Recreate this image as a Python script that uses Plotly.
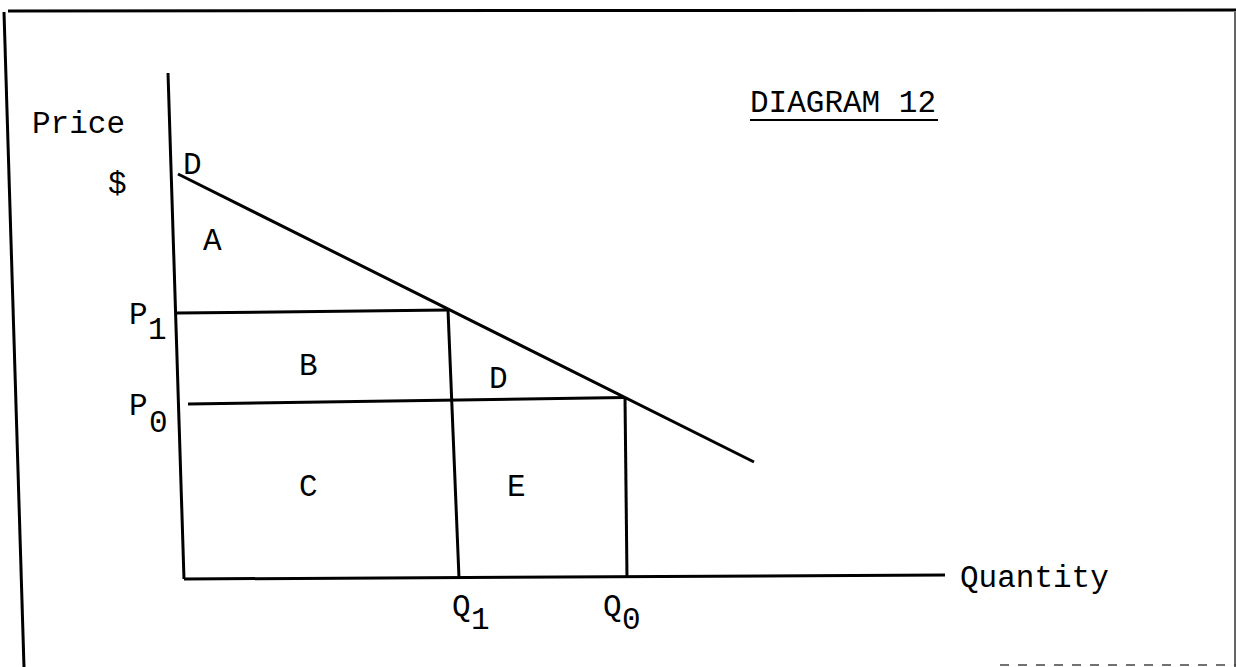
import plotly.graph_objects as go

# ---- data (Quantity / Price units; origin at the axes corner) ----
# axes (slightly skewed as in the scanned original)
yaxis_q = [-0.32, 0.0]
yaxis_p = [10.12, 0.0]
xaxis_q = [0.0, 15.22]
xaxis_p = [0.0, 0.08]

# demand curve D
demand_q = [-0.12, 11.4]
demand_p = [8.1, 2.34]

# price P1 / quantity Q1
p1_q = [-0.14, 5.28]
p1_p = [5.32, 5.38]
q1_q = [5.28, 5.5]
q1_p = [5.38, 0.02]

# price P0 / quantity Q0
p0_q = [0.08, 8.82]
p0_p = [3.5, 3.63]
q0_q = [8.82, 8.86]
q0_p = [3.63, 0.02]

# title underline
under_q = [11.32, 15.08]
under_p = [9.18, 9.18]

# text labels: (text, q, p)
labels = [
    ("Price", -2.12, 9.1),
    ("$", -1.34, 7.9),
    ("D", 0.16, 8.28),
    ("A", 0.56, 6.76),
    ("P", -0.92, 5.28), ("1", -0.54, 4.98),
    ("P", -0.92, 3.46), ("0", -0.52, 3.12),
    ("B", 2.48, 4.26),
    ("D", 6.28, 4.0),
    ("C", 2.48, 1.84),
    ("E", 6.64, 1.84),
    ("Q", 5.54, -0.56), ("1", 5.92, -0.82),
    ("Q", 8.56, -0.56), ("0", 8.94, -0.82),
    ("Quantity", 17.0, 0.02),
    ("DIAGRAM 12", 13.18, 9.52),
]

FONT = "Liberation Mono, Courier New, monospace"
W, H = 1236, 667

fig = go.Figure()
segments = [
    (yaxis_q, yaxis_p), (xaxis_q, xaxis_p),
    (demand_q, demand_p),
    (p1_q, p1_p), (q1_q, q1_p),
    (p0_q, p0_p), (q0_q, q0_p),
]
for xs, ys in segments:
    fig.add_trace(go.Scatter(x=xs, y=ys, mode="lines",
                             line=dict(color="black", width=3),
                             hoverinfo="skip", showlegend=False))
fig.add_trace(go.Scatter(x=under_q, y=under_p, mode="lines",
                         line=dict(color="black", width=2),
                         hoverinfo="skip", showlegend=False))

for txt, q, p in labels:
    fig.add_annotation(x=q, y=p, text=txt, showarrow=False,
                       xanchor="center", yanchor="middle",
                       font=dict(family=FONT, size=31, color="black"))

# scanned page frame
frame = dict(type="line", xref="paper", yref="paper", layer="above")
fig.add_shape(**frame, x0=8 / W, y0=1 - 11 / H, x1=1.0, y1=1 - 10 / H,
              line=dict(color="black", width=3))
fig.add_shape(**frame, x0=4 / W, y0=1 - 12 / H, x1=24 / W, y1=0.0,
              line=dict(color="black", width=3))
fig.add_shape(**frame, x0=1235 / W, y0=1 - 12 / H, x1=1235 / W, y1=0.0,
              line=dict(color="#333333", width=1.5))
fig.add_shape(**frame, x0=1000 / W, y0=1 - 665 / H, x1=1.0, y1=1 - 665 / H,
              line=dict(color="#444444", width=1.5, dash="dash"))

fig.update_layout(
    width=W, height=H,
    margin=dict(l=0, r=0, t=0, b=0),
    paper_bgcolor="white", plot_bgcolor="white",
    xaxis=dict(range=[-184 / 50, (W - 184) / 50], visible=False, fixedrange=True),
    yaxis=dict(range=[(579 - H) / 50, 579 / 50], visible=False, fixedrange=True),
    showlegend=False,
)

fig.write_html("out.html", config={"displayModeBar": False},
               post_script="document.body.style.margin='0';"
                           "document.body.style.overflow='hidden';")
